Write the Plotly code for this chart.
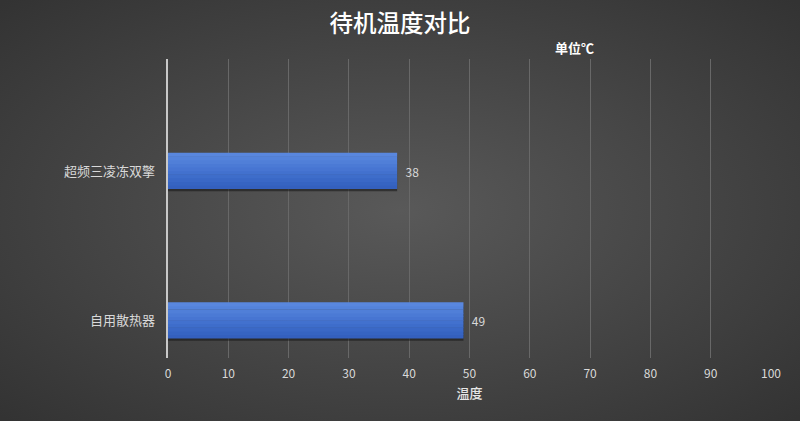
import plotly.graph_objects as go
import base64

# 数据
categories = ['超频三凌冻双擎', '自用散热器']
temps = [38, 49]
x_ticks = [0, 10, 20, 30, 40, 50, 60, 70, 80, 90, 100]

font_cn = 'Noto Sans CJK SC'

# 背景径向渐变 (svg)
svg = ('<svg xmlns="http://www.w3.org/2000/svg" width="800" height="421">'
       '<defs><radialGradient id="g" cx="50%" cy="50%" r="70%">'
       '<stop offset="0%" stop-color="#595959"/>'
       '<stop offset="100%" stop-color="#333333"/>'
       '</radialGradient></defs>'
       '<rect width="800" height="421" fill="url(#g)"/></svg>')
bg_src = 'data:image/svg+xml;base64,' + base64.b64encode(svg.encode()).decode()

L, R, T, B = 168, 29, 59, 63
pw, ph = 800 - L - R, 421 - T - B

bar_w = 0.24

fig = go.Figure()
# 阴影
fig.add_trace(go.Bar(
    x=temps, y=categories, orientation='h', offset=-bar_w / 2 - 0.014, width=bar_w,
    marker=dict(color='rgba(20,20,20,0.55)', line=dict(width=0)), hoverinfo='skip',
))
# 渐变条 (分段模拟)
stripes = ['#3460be', '#3664c2', '#3a68c6', '#3e6dca', '#4271ce',
           '#4775d2', '#4b7ad5', '#507fd8', '#5483db', '#5987de']
n = len(stripes)
for i, c in enumerate(stripes):
    fig.add_trace(go.Bar(
        x=temps, y=categories, orientation='h',
        offset=-bar_w / 2 + bar_w * i / n, width=bar_w / n + 0.003,
        marker=dict(color=c, line=dict(width=0)),
    ))
# 数值标签
fig.add_trace(go.Bar(
    x=temps, y=categories, orientation='h', width=bar_w,
    marker=dict(color='rgba(0,0,0,0)', line=dict(width=0)),
    text=temps, texttemplate='  %{x}', textposition='outside',
    textfont=dict(color='#d9d9d9', size=12, family=font_cn),
    cliponaxis=False,
))

fig.update_layout(
    width=800, height=421,
    margin=dict(l=L, r=R, t=T, b=B),
    barmode='overlay',
    paper_bgcolor='#404040',
    plot_bgcolor='rgba(0,0,0,0)',
    font=dict(family=font_cn, color='#d9d9d9'),
    showlegend=False,
    title=dict(text='待机温度对比', x=0.5, xanchor='center', y=0.943, yanchor='middle',
               font=dict(size=23.5, color='#ffffff', family=font_cn, weight=500)),
    images=[dict(source=bg_src, xref='paper', yref='paper', x=-L / pw, y=1 + T / ph,
                 sizex=800 / pw, sizey=421 / ph, xanchor='left', yanchor='top',
                 sizing='stretch', layer='below')],
    xaxis=dict(range=[0, 100], tickvals=x_ticks, showgrid=True,
               gridcolor='#686868', gridwidth=1, zeroline=False, ticklen=0,
               ticklabelstandoff=7,
               tickfont=dict(size=12, color='#d9d9d9'),
               title=dict(text='温度', font=dict(size=13, color='#e6e6e6', weight=500),
                          standoff=8)),
    yaxis=dict(categoryorder='array', categoryarray=categories[::-1],
               showline=True, linecolor='#c8c8c8', linewidth=1.5,
               tickfont=dict(size=13, color='#d9d9d9'), ticksuffix='   ',
               range=[-0.25, 1.75]),
    annotations=[dict(text='<b>单位℃</b>', xref='paper', yref='paper',
                      x=(574 - L) / pw, y=1.04, xanchor='center', yanchor='middle',
                      showarrow=False, font=dict(size=13, color='#ffffff'))],
)

fig.write_html('out.html', config={'displayModeBar': False},
               post_script="document.body.style.margin='0';")
